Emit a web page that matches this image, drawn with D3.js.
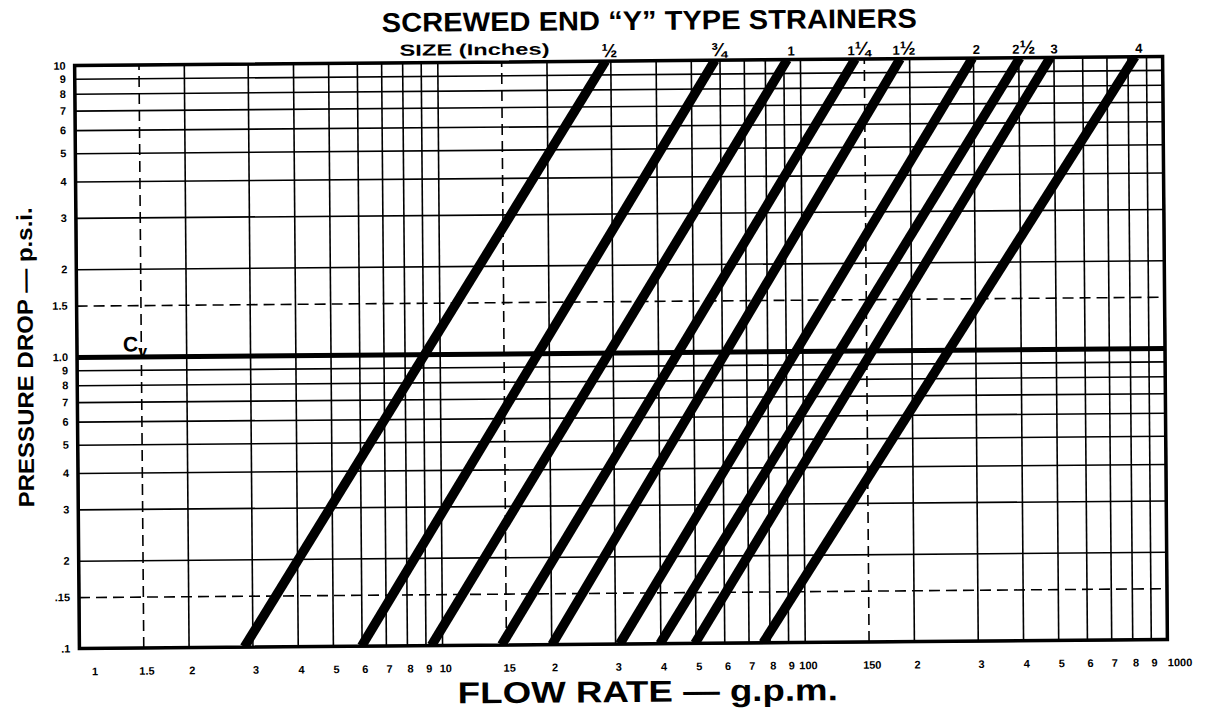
<!DOCTYPE html>
<html>
<head>
<meta charset="utf-8">
<script src="https://cdn.jsdelivr.net/npm/d3@7.9.0/dist/d3.min.js"></script>
<style>
body { margin: 0; background: #fff; }
svg text { font-family: "Liberation Sans", Arial, sans-serif; font-weight: bold; fill: #000; }
</style>
</head>
<body>
<svg id="chart" width="1206" height="709"></svg>
<script>
// strainer sizes and the flow (gpm) each line reads at 0.1 psi and at 10 psi
const sizes = ['½', '¾', '1', '1¼', '1½', '2', '2½', '3', '4'];
const flowAtLow = [2.85, 6.0, 9.35, 14.6, 20.1, 30.9, 39.9, 49.8, 76.8];
const flowAtHigh = [29.1, 58.3, 92.2, 142, 189, 299, 404, 490, 839];

const xTicks = [1, 1.5, 2, 3, 4, 5, 6, 7, 8, 9, 10, 15, 20, 30, 40, 50, 60, 70, 80, 90,
  100, 150, 200, 300, 400, 500, 600, 700, 800, 900, 1000];
const xTickLabels = ['1', '1.5', '2', '3', '4', '5', '6', '7', '8', '9', '10', '15', '2', '3', '4', '5', '6', '7', '8', '9',
  '100', '150', '2', '3', '4', '5', '6', '7', '8', '9', '1000'];
const yTicks = [0.1, 0.15, 0.2, 0.3, 0.4, 0.5, 0.6, 0.7, 0.8, 0.9, 1, 1.5, 2, 3, 4, 5, 6, 7, 8, 9, 10];
const yTickLabels = ['.1', '.15', '2', '3', '4', '5', '6', '7', '8', '9', '1.0', '1.5', '2', '3', '4', '5', '6', '7', '8', '9', '10'];
const dashedX = [1.5, 15, 150];
const dashedY = [0.15, 1.5];

const pLeft = 77, pRight = 1165, pTop = 61, pBottom = 644;
const x = d3.scaleLog().domain([1, 1000]).range([pLeft, pRight]);
const y = d3.scaleLog().domain([0.1, 10]).range([pBottom, pTop]);

const svg = d3.select('#chart');
// the scanned sheet is a little tilted
const g = svg.append('g').attr('transform', `rotate(-0.47, ${(pLeft + pRight) / 2}, ${(pTop + pBottom) / 2})`);

g.append('defs').append('clipPath').attr('id', 'plot')
  .append('rect').attr('x', pLeft).attr('y', pTop).attr('width', pRight - pLeft).attr('height', pBottom - pTop);

// vertical grid + flow labels
const xAxis = g.append('g')
  .attr('transform', `translate(0,${pBottom})`)
  .call(d3.axisBottom(x).tickValues(xTicks).tickFormat((d, i) => xTickLabels[i])
    .tickSize(-(pBottom - pTop)).tickPadding(19));
xAxis.select('.domain').remove();
xAxis.attr('font-family', null).attr('font-size', 11);
xAxis.selectAll('.tick line')
  .attr('stroke-width', 1.6)
  .attr('stroke-dasharray', d => dashedX.includes(d) ? '11,6' : null);
xAxis.selectAll('.tick text')
  .attr('dx', (d, i) => i === 0 ? 15 : i === xTicks.length - 1 ? 12 : 3);

// horizontal grid + pressure labels
const yAxis = g.append('g')
  .attr('transform', `translate(${pLeft},0)`)
  .call(d3.axisLeft(y).tickValues(yTicks).tickFormat((d, i) => yTickLabels[i])
    .tickSize(-(pRight - pLeft)).tickPadding(9));
yAxis.select('.domain').remove();
yAxis.attr('font-family', null).attr('font-size', 11);
yAxis.selectAll('.tick line')
  .attr('stroke-width', d => d === 1 ? 5 : 1.6)
  .attr('stroke-dasharray', d => dashedY.includes(d) ? '11,6' : null);

// frame
g.append('rect')
  .attr('x', pLeft).attr('y', pTop).attr('width', pRight - pLeft).attr('height', pBottom - pTop)
  .attr('fill', 'none').attr('stroke', '#000').attr('stroke-width', 3.5);

// strainer lines
g.append('g').attr('clip-path', 'url(#plot)')
  .selectAll('line').data(sizes).join('line')
  .attr('x1', (d, i) => x(flowAtLow[i])).attr('y1', y(0.1))
  .attr('x2', (d, i) => x(flowAtHigh[i])).attr('y2', y(10))
  .attr('stroke', '#000').attr('stroke-width', 9.5);

// size labels at the top of each line
const fracs = '½¼¾';
g.append('g').selectAll('text').data(sizes).join('text')
  .attr('x', (d, i) => x(flowAtHigh[i]) + 4)
  .attr('y', 57)
  .attr('text-anchor', 'middle')
  .each(function (d) {
    const t = d3.select(this);
    [...d].forEach(ch => {
      t.append('tspan').attr('font-size', fracs.includes(ch) ? 19 : 13).text(ch);
    });
  });

g.append('text').attr('x', 477).attr('y', 54).attr('text-anchor', 'middle')
  .attr('font-size', 16).attr('textLength', 150).attr('lengthAdjust', 'spacingAndGlyphs')
  .text('SIZE (Inches)');

// Cv mark on the 1.0 line
const cv = g.append('text').attr('x', 123).attr('y', y(1) - 5).attr('font-size', 21);
cv.append('tspan').text('C');
cv.append('tspan').attr('font-size', 16).attr('dy', 5).text('v');

// titles
g.append('text').attr('x', 652).attr('y', 30).attr('text-anchor', 'middle')
  .attr('font-size', 27).attr('textLength', 535).attr('lengthAdjust', 'spacingAndGlyphs')
  .text('SCREWED END “Y” TYPE STRAINERS');

g.append('text').attr('x', 645).attr('y', 702).attr('text-anchor', 'middle')
  .attr('font-size', 30).attr('textLength', 380).attr('lengthAdjust', 'spacingAndGlyphs')
  .text('FLOW RATE — g.p.m.');

g.append('text').attr('transform', `translate(33,${(pTop + pBottom) / 2}) rotate(-90)`)
  .attr('text-anchor', 'middle')
  .attr('font-size', 22).attr('textLength', 300).attr('lengthAdjust', 'spacingAndGlyphs')
  .text('PRESSURE DROP — p.s.i.');
</script>
</body>
</html>
